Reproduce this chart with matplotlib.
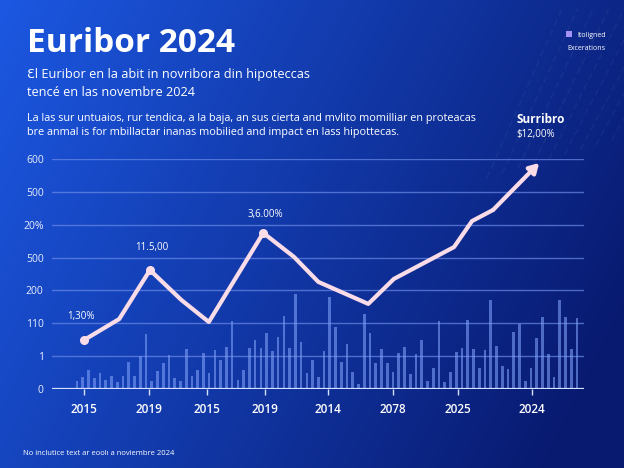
import numpy as np
import matplotlib
matplotlib.use('Agg')
import matplotlib.pyplot as plt
from matplotlib.patches import Rectangle

plt.rcParams['font.family'] = ['Open Sans', 'DejaVu Sans']

# ---------------- data ----------------
title = "Euribor 2024"
subtitle_lines = ["Ɛl Euribor en la abit in novribora din hipoteccas",
                  "tencé en las novembre 2024"]
paragraph_lines = ["La las sur untuaios, rur tendica, a la baja, an sus cierta and mvlito momilliar en proteacas",
                   "bre anmal is for mbillactar inanas mobilied and impact en lass hipottecas."]
footnote = "No inclutice text ar eoolı a noviembre 2024"
legend_labels = ["Itoligned", "Excerations"]

y_tick_labels = ['0', '1', '110', '200', '500', '20%', '500', '600']
x_tick_pos = [0, 1.02, 1.92, 2.83, 3.81, 4.83, 5.84, 7.0]
x_tick_labels = ['2015', '2019', '2015', '2019', '2014', '2078', '2025', '2024']

line_x = [0, 0.55, 1.03, 1.52, 1.95, 2.80, 3.28, 3.66, 4.44, 4.84, 5.78, 6.06, 6.39, 7.11]
line_y = [1.49, 2.13, 3.62, 2.71, 2.04, 4.75, 4.02, 3.26, 2.59, 3.35, 4.32, 5.11, 5.45, 6.88]
marker_idx = [0, 2, 5]

bar_values = [
    0.24, 0.37, 0.58, 0.33, 0.49, 0.27, 0.40, 0.21, 0.40, 0.82, 0.40, 1.00, 1.67, 0.24, 0.55,
    0.79, 1.03, 0.33, 0.24, 1.22,
    0.40, 0.58, 1.10, 0.49, 1.19, 0.88, 1.28, 2.07, 0.27, 0.58, 1.25, 1.49, 1.25, 1.70, 1.16,
    1.58, 2.22, 1.25, 2.89, 1.43, 0.49, 0.88, 0.37,
    1.16, 2.80, 1.89, 0.82, 1.37, 0.52, 0.15, 2.28, 1.70, 0.79, 1.22, 0.79, 0.52, 1.10, 1.28,
    0.46, 1.07, 1.49, 0.24, 0.64, 2.07, 0.21,
    0.52, 1.13, 1.25, 2.10, 1.22, 0.64, 1.19, 2.71, 1.31, 0.70, 0.61, 1.73, 1.98, 0.24, 0.64,
    1.55, 2.19, 1.07, 0.37, 2.71, 2.19, 1.22, 2.16,
]
bar_start, bar_end = -0.11, 7.70

annotations = [  # (text, x, y, ha, size, weight)
    ("1,30%", -0.27, 2.13, 'left', 7, 'normal'),
    ("11.5,00", 1.06, 4.23, 'center', 7, 'normal'),
    ("3,6.00%", 2.83, 5.23, 'center', 7, 'normal'),
    ("Surribro", 7.13, 8.09, 'center', 8.5, 'bold'),
    ("$12,00%", 7.06, 7.67, 'center', 7, 'normal'),
]

# ---------------- colours ----------------
line_color = '#f9dce8'
bar_color = '#7d9ef7'
grid_color = '#6a8ae6'
text_color = 'white'

W, H = 624, 468
fig = plt.figure(figsize=(W / 100, H / 100), dpi=100)

# background gradient
bg = fig.add_axes([0, 0, 1, 1])
bg.axis('off')
xx = np.linspace(0, 1, W)
yy = np.linspace(0, 1, H)
X, Y = np.meshgrid(xx, yy)
t = np.clip(0.8 * X + 0.3 * Y, 0, 1)
c0 = np.array([28, 88, 226]) / 255
c1 = np.array([8, 26, 112]) / 255
img = c0 + (c1 - c0) * t[..., None]
bg.imshow(img, aspect='auto', extent=[0, 1, 0, 1], origin='upper', zorder=0)
bg.set_xlim(0, 1)
bg.set_ylim(0, 1)

# faint decorative streaks top-right
for k in range(9):
    x0 = 0.78 + k * 0.025
    bg.plot([x0, x0 + 0.12], [0.62 + k * 0.01, 0.98], color='white', alpha=0.06,
            lw=0.8, ls=(0, (6, 4)))

def fy(px):
    return 1 - px / H

# ---------------- main axes ----------------
ax = fig.add_axes([52 / W, fy(389), (584 - 52) / W, (389 - 159) / H])
ax.patch.set_alpha(0)
for s in ax.spines.values():
    s.set_visible(False)
ax.set_xlim(-0.5, 7.81)
ax.set_ylim(0, 7)

for i in range(1, 8):
    ax.axhline(i, color=grid_color, lw=1.0, alpha=0.7, zorder=1)
ax.axhline(0, color='#d6e0ff', lw=1.6, zorder=3)

bar_x = np.linspace(bar_start, bar_end, len(bar_values))
ax.bar(bar_x, bar_values, width=0.042, color=bar_color, alpha=0.6, zorder=2)

ax.plot(line_x[:-1], line_y[:-1], color=line_color, lw=3.0,
        solid_joinstyle='round', solid_capstyle='round', zorder=5)
ax.annotate('', xy=(line_x[-1], line_y[-1]), xytext=(line_x[-2], line_y[-2]),
            arrowprops=dict(arrowstyle='-|>,head_length=0.55,head_width=0.32',
                            color=line_color, lw=3.0, shrinkA=0, shrinkB=0),
            zorder=5)
ax.plot([line_x[i] for i in marker_idx], [line_y[i] for i in marker_idx], 'o',
        color=line_color, ms=5.5, zorder=6)

ax.set_yticks(range(len(y_tick_labels)))
ax.set_yticklabels(y_tick_labels)
ax.tick_params(axis='y', length=0, pad=6, labelsize=7.5, labelcolor='#e8eeff')
ax.set_xticks(x_tick_pos)
ax.set_xticklabels(x_tick_labels, fontweight='semibold')
ax.tick_params(axis='x', length=4, width=1, color='#d6e0ff', direction='out', pad=6,
               labelsize=8.5, labelcolor='white')

for txt, x, y, ha, size, w in annotations:
    ax.text(x, y, txt, ha=ha, va='baseline', fontsize=size, fontweight=w,
            color=text_color, clip_on=False, zorder=7)

# ---------------- texts ----------------
fig.text(27 / W, fy(52), title, fontsize=24, fontweight='bold', color='white', va='baseline')
for line, b in zip(subtitle_lines, [78, 96]):
    fig.text(27 / W, fy(b), line, fontsize=9.2, color='white', va='baseline')
for line, b in zip(paragraph_lines, [121, 135]):
    fig.text(27 / W, fy(b), line, fontsize=7.85, color='white', va='baseline')
fig.text(23 / W, fy(455), footnote, fontsize=5.5, color='white', va='baseline')

# legend
fig.patches.append(Rectangle((566 / W, fy(37)), 6 / W, 6 / H, transform=fig.transFigure,
                             facecolor='#a592f5', edgecolor='none'))
fig.text(577 / W, fy(37), legend_labels[0], fontsize=5, color='white', va='baseline')
fig.text(567 / W, fy(50), legend_labels[1], fontsize=5, color='white', va='baseline')

fig.savefig('out.png', dpi=100)
